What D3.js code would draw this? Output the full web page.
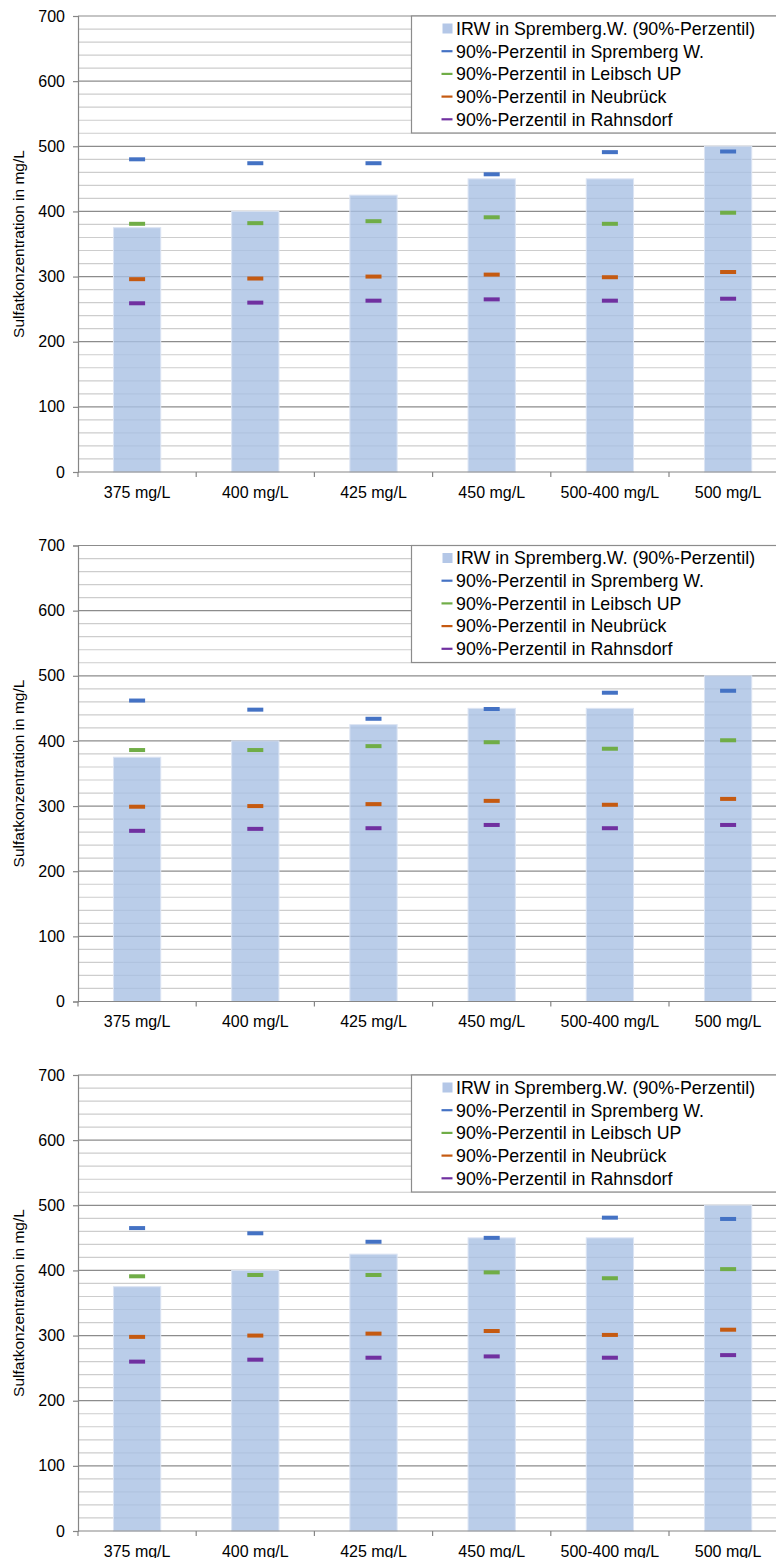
<!DOCTYPE html>
<html>
<head>
<meta charset="utf-8">
<script src="https://cdn.jsdelivr.net/npm/d3@7"></script>
<style>
  html, body { margin: 0; padding: 0; background: #fff; }
  svg { display: block; font-family: "Liberation Sans", Arial, sans-serif; }
</style>
</head>
<body>
<script>
// Categories (Immissionsrichtwert-Varianten)
const categories = ["375 mg/L", "400 mg/L", "425 mg/L", "450 mg/L", "500-400 mg/L", "500 mg/L"];
// IRW in Spremberg-Wilhelmsthal (90%-Perzentil) – bar series, same in every panel
const irw = [375, 400, 425, 450, 450, 500];

// Scenario 1
const spremberg1 = [480, 474, 474, 457, 491, 492];
const leibsch1   = [381, 382, 385, 391, 381, 398];
const neubrueck1 = [296, 297, 300, 303, 299, 307];
const rahnsdorf1 = [259, 260, 263, 265, 263, 266];

// Scenario 2
const spremberg2 = [462, 448, 434, 449, 474, 477];
const leibsch2   = [386, 386, 392, 398, 388, 401];
const neubrueck2 = [299, 300, 303, 308, 302, 311];
const rahnsdorf2 = [262, 265, 266, 271, 266, 271];

// Scenario 3
const spremberg3 = [465, 457, 444, 450, 481, 479];
const leibsch3   = [391, 393, 393, 397, 388, 402];
const neubrueck3 = [298, 300, 303, 307, 301, 309];
const rahnsdorf3 = [260, 263, 266, 268, 266, 270];

const yTicks = [0, 100, 200, 300, 400, 500, 600, 700];
const yMinor = d3.range(0, 701, 20);

const seriesNames = [
  "IRW in Spremberg.W. (90%-Perzentil)",
  "90%-Perzentil in Spremberg W.",
  "90%-Perzentil in Leibsch UP",
  "90%-Perzentil in Neubrück",
  "90%-Perzentil in Rahnsdorf"
];
const seriesColors = ["#b4c7e7", "#4472c4", "#70ad47", "#c55a11", "#7030a0"];

const panels = [
  [spremberg1, leibsch1, neubrueck1, rahnsdorf1],
  [spremberg2, leibsch2, neubrueck2, rahnsdorf2],
  [spremberg3, leibsch3, neubrueck3, rahnsdorf3]
];

const W = 776, H = 1558;
const svg = d3.select("body").append("svg").attr("width", W).attr("height", H);

const plotLeft = 78, step = 118.2, plotH = 456;
const panelTops = [16, 545.5, 1075];

const x = d3.scaleBand().domain(categories).range([plotLeft, plotLeft + step * categories.length]).padding(0);

panels.forEach((lines, pi) => {
  const top = panelTops[pi];
  const y = d3.scaleLinear().domain([0, 700]).range([top + plotH, top]);
  const g = svg.append("g");
  const xRight = W + 20;

  // minor gridlines
  g.append("g").selectAll("line").data(yMinor.filter(v => v % 100 !== 0)).join("line")
    .attr("x1", plotLeft).attr("x2", xRight)
    .attr("y1", d => y(d)).attr("y2", d => y(d))
    .attr("stroke", "#cdcdcd").attr("stroke-width", 1.2);

  // major gridlines
  g.append("g").selectAll("line").data(yTicks.filter(v => v > 0)).join("line")
    .attr("x1", plotLeft).attr("x2", xRight)
    .attr("y1", d => y(d)).attr("y2", d => y(d))
    .attr("stroke", "#8c8c8c").attr("stroke-width", 1.2);

  // bars
  const bw = x.bandwidth();
  g.append("g").selectAll("rect").data(irw).join("rect")
    .attr("x", (d, i) => x(categories[i]) + bw * 0.3)
    .attr("width", bw * 0.4)
    .attr("y", d => y(d))
    .attr("height", d => y(0) - y(d))
    .attr("fill", "#a9c0e4").attr("fill-opacity", 0.8)
    .attr("stroke", "#dbe4f3").attr("stroke-width", 1);

  // percentile markers
  lines.forEach((vals, si) => {
    g.append("g").selectAll("rect").data(vals).join("rect")
      .attr("x", (d, i) => x(categories[i]) + bw / 2 - 8)
      .attr("width", 16)
      .attr("y", d => y(d) - 2)
      .attr("height", 4)
      .attr("fill", seriesColors[si + 1]);
  });

  // y axis
  const yAxis = g.append("g").attr("transform", `translate(${plotLeft},0)`)
    .call(d3.axisLeft(y).tickValues(yTicks).tickSize(5).tickPadding(8).tickFormat(d3.format("d")));
  yAxis.select(".domain").attr("stroke", "#868686").attr("stroke-width", 1.2);
  yAxis.selectAll(".tick line").attr("stroke", "#868686").attr("stroke-width", 1.2);
  yAxis.selectAll(".tick text").attr("font-size", 16).attr("fill", "#000")
    .attr("font-family", "Liberation Sans, Arial, sans-serif");

  // x axis
  const xAxisG = g.append("g").attr("transform", `translate(0,${y(0)})`);
  xAxisG.append("line").attr("x1", plotLeft).attr("x2", xRight)
    .attr("stroke", "#868686").attr("stroke-width", 1.2);
  xAxisG.selectAll(".xt").data(categories).join("line").attr("class", "xt")
    .attr("x1", d => x(d)).attr("x2", d => x(d)).attr("y1", 0).attr("y2", 5)
    .attr("stroke", "#868686").attr("stroke-width", 1.2);
  xAxisG.selectAll(".xl").data(categories).join("text").attr("class", "xl")
    .attr("x", d => x(d) + bw / 2).attr("y", 25.5)
    .attr("text-anchor", "middle").attr("font-size", 16).attr("fill", "#000")
    .text(d => d);

  // y axis title
  g.append("text")
    .attr("transform", `translate(24,${(y(0) + y(700)) / 2}) rotate(-90)`)
    .attr("text-anchor", "middle").attr("font-size", 15.5).attr("fill", "#000")
    .text("Sulfatkonzentration in mg/L");

  // legend
  const lg = g.append("g").attr("transform", `translate(411.5,${top})`);
  lg.append("rect").attr("x", 0).attr("y", 0).attr("width", 400).attr("height", 117)
    .attr("fill", "#fff").attr("stroke", "#8c8c8c").attr("stroke-width", 1.2);
  seriesNames.forEach((name, i) => {
    const cy = 12.5 + i * 22.7;
    if (i === 0) {
      lg.append("rect").attr("x", 31).attr("y", cy - 5).attr("width", 10).attr("height", 10)
        .attr("fill", seriesColors[0]);
    } else {
      lg.append("line").attr("x1", 30).attr("x2", 41).attr("y1", cy).attr("y2", cy)
        .attr("stroke", seriesColors[i]).attr("stroke-width", 2.2);
    }
    lg.append("text").attr("x", 44.5).attr("y", cy + 6.3)
      .attr("font-size", 17.8).attr("fill", "#000").text(name);
  });
});
</script>
</body>
</html>
